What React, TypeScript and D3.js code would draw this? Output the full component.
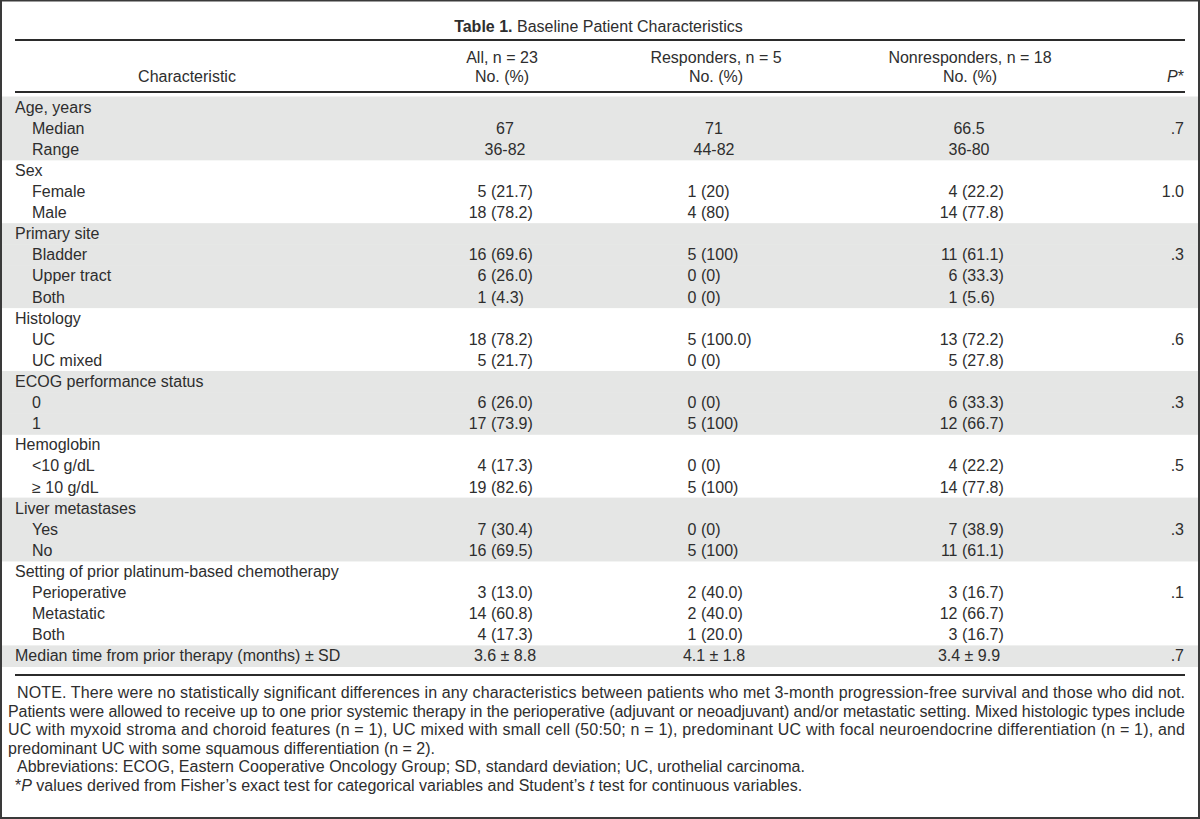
import React from "react";
import * as d3 from "d3";

// ---------- data ----------
const tableTitleBold = "Table 1.";
const tableTitle = "Baseline Patient Characteristics";

const columnHeads = ["Characteristic", "All, n = 23", "Responders, n = 5", "Nonresponders, n = 18"];
const columnSubHeads = ["", "No. (%)", "No. (%)", "No. (%)"];

const characteristics = [
  "Age, years", "Median", "Range",
  "Sex", "Female", "Male",
  "Primary site", "Bladder", "Upper tract", "Both",
  "Histology", "UC", "UC mixed",
  "ECOG performance status", "0", "1",
  "Hemoglobin", "<10 g/dL", "\u2265 10 g/dL",
  "Liver metastases", "Yes", "No",
  "Setting of prior platinum-based chemotherapy", "Perioperative", "Metastatic", "Both",
  "Median time from prior therapy (months) \u00b1 SD",
];
const isSubRow = [
  false, true, true,
  false, true, true,
  false, true, true, true,
  false, true, true,
  false, true, true,
  false, true, true,
  false, true, true,
  false, true, true, true,
  false,
];
const allPatients = [
  "", "67", "36-82",
  "", "5 (21.7)", "18 (78.2)",
  "", "16 (69.6)", "6 (26.0)", "1 (4.3)",
  "", "18 (78.2)", "5 (21.7)",
  "", "6 (26.0)", "17 (73.9)",
  "", "4 (17.3)", "19 (82.6)",
  "", "7 (30.4)", "16 (69.5)",
  "", "3 (13.0)", "14 (60.8)", "4 (17.3)",
  "3.6 \u00b1 8.8",
];
const responders = [
  "", "71", "44-82",
  "", "1 (20)", "4 (80)",
  "", "5 (100)", "0 (0)", "0 (0)",
  "", "5 (100.0)", "0 (0)",
  "", "0 (0)", "5 (100)",
  "", "0 (0)", "5 (100)",
  "", "0 (0)", "5 (100)",
  "", "2 (40.0)", "2 (40.0)", "1 (20.0)",
  "4.1 \u00b1 1.8",
];
const nonresponders = [
  "", "66.5", "36-80",
  "", "4 (22.2)", "14 (77.8)",
  "", "11 (61.1)", "6 (33.3)", "1 (5.6)",
  "", "13 (72.2)", "5 (27.8)",
  "", "6 (33.3)", "12 (66.7)",
  "", "4 (22.2)", "14 (77.8)",
  "", "7 (38.9)", "11 (61.1)",
  "", "3 (16.7)", "12 (66.7)", "3 (16.7)",
  "3.4 \u00b1 9.9",
];
const pValues = [
  "", ".7", "",
  "", "1.0", "",
  "", ".3", "", "",
  "", ".6", "",
  "", ".3", "",
  "", ".5", "",
  "", ".3", "",
  "", ".1", "", "",
  ".7",
];

const noteLines = [
  "NOTE. There were no statistically significant differences in any characteristics between patients who met 3-month progression-free survival and those who did not.",
  "Patients were allowed to receive up to one prior systemic therapy in the perioperative (adjuvant or neoadjuvant) and/or metastatic setting. Mixed histologic types include",
  "UC with myxoid stroma and choroid features (n = 1), UC mixed with small cell (50:50; n = 1), predominant UC with focal neuroendocrine differentiation (n = 1), and",
  "predominant UC with some squamous differentiation (n = 2).",
];
const abbreviationLine = "Abbreviations: ECOG, Eastern Cooperative Oncology Group; SD, standard deviation; UC, urothelial carcinoma.";

// ---------- layout ----------
const W = 1200;
const H = 819;
const FONT = "'Liberation Sans', Arial, Helvetica, sans-serif";
const TXT = "#2e2e2e";
const SHADE = "#e5e6e5";
const RULE = "#2b2b2b";

const ruleX0 = 15;
const ruleX1 = 1185;

export default function App() {
  const rowIdx = characteristics.map((_, i) => i);
  const y = d3.scaleBand<number>().domain(rowIdx).range([96.5, 666.5]).padding(0);

  // group index -> shading
  let g = -1;
  const groupOf = characteristics.map((_, i) => {
    if (!isSubRow[i]) g += 1;
    return g;
  });

  const dataCols = [allPatients, responders, nonresponders];
  const parenX = d3.scaleOrdinal<number, number>().domain([0, 1, 2]).range([491, 701, 962]);
  const centerX = d3.scaleOrdinal<number, number>().domain([0, 1, 2]).range([505, 714, 969]);
  const headX = d3.scaleOrdinal<number, number>().domain([0, 1, 2, 3]).range([187, 502, 716, 970]);
  const pX = 1184;

  const noteY = d3.scaleLinear().domain([0, 1]).range([698, 716.6]);

  const renderValue = (v: string, c: number, cy: number, key: string) => {
    if (!v) return null;
    const m = v.match(/^(\S+) (\(.*\))$/);
    if (m) {
      const px = parenX(c);
      return (
        <g key={key}>
          <text x={px - 4.5} y={cy} textAnchor="end">{m[1]}</text>
          <text x={px} y={cy} textAnchor="start">{m[2]}</text>
        </g>
      );
    }
    return (
      <text key={key} x={centerX(c)} y={cy} textAnchor="middle">{v}</text>
    );
  };

  return (
    <svg
      width={W}
      height={H}
      viewBox={`0 0 ${W} ${H}`}
      style={{ position: "absolute", left: 0, top: 0, background: "#fff" }}
      fontFamily={FONT}
      fontSize={16}
      fill={TXT}
    >
      <rect x={0} y={0} width={W} height={H} fill="#fff" />

      {/* shaded bands */}
      {rowIdx.map((i) =>
        groupOf[i] % 2 === 0 ? (
          <rect key={"b" + i} x={2} y={y(i)} width={W - 4} height={y.bandwidth() + 0.5} fill={SHADE} />
        ) : null
      )}

      {/* title */}
      <text x={598.5} y={32} textAnchor="middle">
        <tspan fontWeight="bold">{tableTitleBold}</tspan>
        <tspan> {tableTitle}</tspan>
      </text>

      {/* rules */}
      <line x1={ruleX0} x2={ruleX1} y1={40} y2={40} stroke={RULE} strokeWidth={2} />
      <line x1={ruleX0} x2={ruleX1} y1={92} y2={92} stroke={RULE} strokeWidth={2} />
      <line x1={ruleX0} x2={ruleX1} y1={675} y2={675} stroke={RULE} strokeWidth={2} />

      {/* column headers */}
      {columnHeads.map((h, c) =>
        c === 0 ? (
          <text key={"h" + c} x={headX(c)} y={82} textAnchor="middle">{h}</text>
        ) : (
          <g key={"h" + c}>
            <text x={headX(c)} y={63} textAnchor="middle">{h}</text>
            <text x={headX(c)} y={82} textAnchor="middle">{columnSubHeads[c]}</text>
          </g>
        )
      )}
      <text x={pX} y={82} textAnchor="end">
        <tspan fontStyle="italic">P</tspan>
        <tspan>*</tspan>
      </text>

      {/* rows */}
      {rowIdx.map((i) => {
        const cy = (y(i) as number) + y.bandwidth() / 2 + 5.5;
        return (
          <g key={"r" + i}>
            <text x={isSubRow[i] ? 32 : 15} y={cy}>{characteristics[i]}</text>
            {dataCols.map((col, c) => renderValue(col[i], c, cy, `v${i}-${c}`))}
            {pValues[i] ? (
              <text x={pX} y={cy} textAnchor="end">{pValues[i]}</text>
            ) : null}
          </g>
        );
      })}

      {/* notes */}
      <text x={17} y={noteY(0)} textLength={ruleX1 - 17} lengthAdjust="spacing">{noteLines[0]}</text>
      <text x={8} y={noteY(1)} textLength={ruleX1 - 8} lengthAdjust="spacing">{noteLines[1]}</text>
      <text x={8} y={noteY(2)} textLength={ruleX1 - 8} lengthAdjust="spacing">{noteLines[2]}</text>
      <text x={8} y={noteY(3)}>{noteLines[3]}</text>
      <text x={17} y={noteY(4)}>{abbreviationLine}</text>
      <text x={15} y={noteY(5)}>
        <tspan>*</tspan>
        <tspan fontStyle="italic">P</tspan>
        <tspan> values derived from Fisher’s exact test for categorical variables and Student’s </tspan>
        <tspan fontStyle="italic">t</tspan>
        <tspan> test for continuous variables.</tspan>
      </text>

      {/* outer frame */}
      <rect x={1} y={0.5} width={W - 2} height={H - 1.5} fill="none" stroke="#3a3a3a" strokeWidth={2} />
    </svg>
  );
}
